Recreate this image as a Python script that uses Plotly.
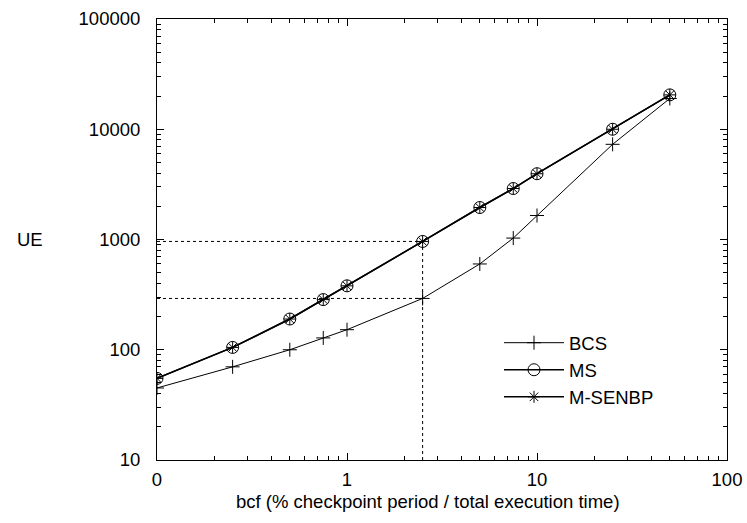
import plotly.graph_objects as go

bcf = [0.1, 0.25, 0.5, 0.75, 1, 2.5, 5, 7.5, 10, 25, 50]
bcs = [45, 70, 100, 128, 152, 292, 600, 1030, 1650, 7300, 19000]
ms = [55, 105, 190, 285, 380, 960, 1950, 2900, 3950, 10000, 20500]
msenbp = [55, 105, 190, 285, 380, 960, 1950, 2900, 3950, 10000, 20500]

x_ticks = [0.1, 1, 10, 100]
x_ticktext = ["0", "1", "10", "100"]
y_ticks = [10, 100, 1000, 10000, 100000]
y_ticktext = ["10", "100", "1000", "10000", "100000"]

FONT = "Liberation Sans, Arial, sans-serif"
FS = 18.5

fig = go.Figure()
fig.add_trace(go.Scatter(x=bcf, y=bcs, name="BCS", mode="lines+markers",
                         line=dict(color="black", width=1),
                         marker=dict(symbol="cross-thin-open", size=10, color="black",
                                     line=dict(color="black", width=1))))
fig.add_trace(go.Scatter(x=bcf, y=ms, name="MS", mode="lines+markers",
                         line=dict(color="black", width=1.5),
                         marker=dict(symbol="circle-open", size=12, color="black",
                                     line=dict(color="black", width=1))))
fig.add_trace(go.Scatter(x=bcf, y=msenbp, name="M-SENBP", mode="lines+markers",
                         line=dict(color="black", width=1.5),
                         marker=dict(symbol="asterisk-open", size=10, color="black",
                                     line=dict(color="black", width=1))))

# dotted guide lines at bcf = 2.5
i = bcf.index(2.5)
x0 = bcf[0]
fig.add_shape(type="line", x0=x0, x1=bcf[i], y0=ms[i], y1=ms[i],
              line=dict(color="black", width=1, dash="dot"), layer="below")
fig.add_shape(type="line", x0=x0, x1=bcf[i], y0=bcs[i], y1=bcs[i],
              line=dict(color="black", width=1, dash="dot"), layer="below")
fig.add_shape(type="line", x0=bcf[i], x1=bcf[i], y0=y_ticks[0], y1=ms[i],
              line=dict(color="black", width=1, dash="dot"), layer="below")

minor_x = [m * d for d in [0.1, 1, 10] for m in range(2, 10)]
minor_y = [m * d for d in [10, 100, 1000, 10000] for m in range(2, 10)]

fig.update_xaxes(type="log", range=[-1, 2], tickvals=x_ticks, ticktext=x_ticktext,
                 ticks="inside", ticklen=7, tickcolor="black", tickwidth=1,
                 showline=True, linecolor="black", linewidth=1, mirror="allticks",
                 showgrid=False, zeroline=False, automargin=False,
                 ticklabelstandoff=3,
                 minor=dict(tickvals=minor_x, ticks="inside", ticklen=4, tickcolor="black", showgrid=False),
                 tickfont=dict(family=FONT, size=FS, color="black"))
fig.update_yaxes(type="log", range=[1, 5], tickvals=y_ticks, ticktext=y_ticktext,
                 ticks="inside", ticklen=7, tickcolor="black", tickwidth=1,
                 showline=True, linecolor="black", linewidth=1, mirror="allticks",
                 showgrid=False, zeroline=False, automargin=False,
                 ticklabelstandoff=12,
                 minor=dict(tickvals=minor_y, ticks="inside", ticklen=4, tickcolor="black", showgrid=False),
                 tickfont=dict(family=FONT, size=FS, color="black"))

fig.add_annotation(text="UE", xref="paper", yref="paper", x=-0.222, y=0.5,
                   xanchor="center", yanchor="middle", showarrow=False,
                   font=dict(family=FONT, size=FS, color="black"))
fig.add_annotation(text="bcf (% checkpoint period / total execution time)",
                   xref="paper", yref="paper", x=0.475, y=-0.095,
                   xanchor="center", yanchor="middle", showarrow=False,
                   font=dict(family=FONT, size=FS, color="black"))

fig.update_layout(
    width=747, height=523,
    margin=dict(l=157, r=20, t=19, b=63),
    paper_bgcolor="white", plot_bgcolor="white",
    showlegend=True,
    legend=dict(x=0.6, y=0.308, xanchor="left", yanchor="top",
                bgcolor="rgba(0,0,0,0)", font=dict(family=FONT, size=FS, color="black"),
                itemwidth=60, tracegroupgap=0),
    font=dict(family=FONT, size=FS, color="black"),
)

fig.write_html("out.html")
